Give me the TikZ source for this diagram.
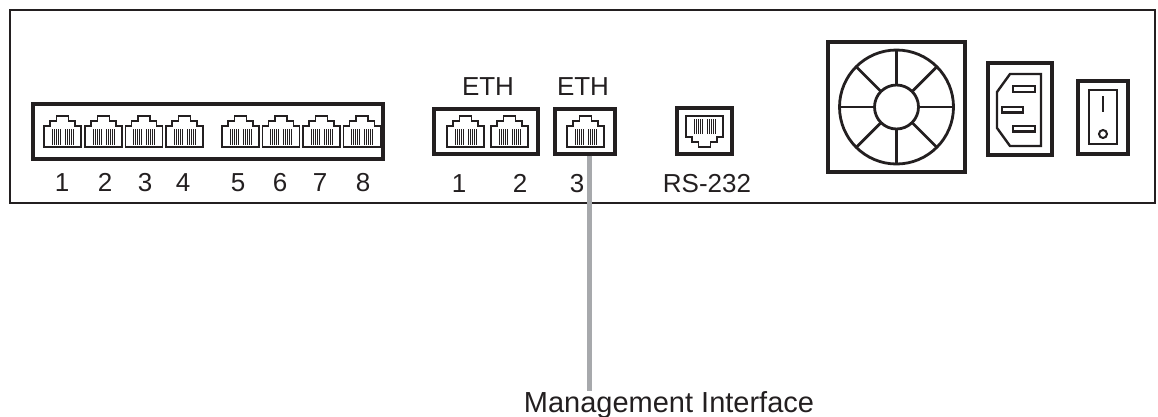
\documentclass[tikz,border=0pt]{standalone}
\usepackage{fontspec}
\setmainfont{Liberation Sans}
\usetikzlibrary{calc}
\definecolor{ink}{HTML}{231F20}
\definecolor{leadgray}{HTML}{A7A9AC}
\tikzset{
  panel/.style={draw=ink, line width=3.2pt, rectangle, inner sep=0pt, minimum width=#1},
  chassis/.style={draw=ink, line width=2.6pt},
  portline/.style={draw=ink, line width=1.2pt, line join=miter},
  pinline/.style={draw=ink, line width=0.8pt},
  lbl/.style={text=ink, inner sep=0pt, anchor=base, font=\fontsize{26}{30}\selectfont},
  biglbl/.style={text=ink, inner sep=0pt, anchor=base, font=\fontsize{29}{34}\selectfont},
  sym/.style={draw=ink, line width=2.8pt},
  rj/.pic={
    \draw[portline] (0,31) -- (0,10) -- (6,10) -- (6,5) -- (12.5,5) -- (12.5,0) -- (24.5,0) -- (24.5,5) -- (31,5) -- (31,10) -- (37,10) -- (37,31) -- cycle;
    \foreach \px in {8,10,12,14,16,21,23,25,27,29} \draw[pinline] (\px,13) -- (\px,28.5);
  }
}
\begin{document}
\begin{tikzpicture}[x=1pt,y=-1pt]
\useasboundingbox (0,0) rectangle (1158,416);
% chassis
\draw[chassis] (10,10) rectangle (1155,203);
% port group 1-8
\node[panel=350pt, minimum height=55pt] (sw) at (208,131.5) {};
\foreach \px in {44,85,125.5,166,222,262.5,303,343.5} \pic at (\px,116) {rj};
\foreach \lx/\t in {62/1,105/2,145/3,183/4,238/5,280/6,320/7,363/8}
  \node[lbl] (n\t) at (\lx,191) {\t};
% ETH 1-2
\node[panel=104pt, minimum height=45pt] (eth12) at (486,131.5) {};
\pic at (447,116) {rj};
\pic at (491,116) {rj};
\node[lbl] (ethA) at (488,95) {ETH};
\node[lbl] (e1) at (459,192) {1};
\node[lbl] (e2) at (520,192) {2};
% ETH 3
\node[panel=60pt, minimum height=45pt] (eth3) at (585,131.5) {};
\pic at (567,116) {rj};
\node[lbl] (ethB) at (583,95) {ETH};
\node[lbl] (e3) at (577,192) {3};
% RS-232
\node[panel=55pt, minimum height=46pt] (rs) at (704.5,131) {};
\pic[yscale=-1] at (686,147) {rj};
\node[lbl] (rsl) at (707,192) {RS-232};
% fan
\node[panel=137pt, minimum height=130pt] (fan) at (896.5,107) {};
\draw[sym] (fan.center) circle (57pt);
\draw[sym] (fan.center) circle (22pt);
\foreach \a in {0,45,...,315}
  \draw[sym] ($(fan.center)+(\a:22pt)$) -- ($(fan.center)+(\a:57pt)$);
% power inlet
\node[panel=64pt, minimum height=92pt] (inlet) at (1020,109) {};
\draw[sym, line width=2.4pt] (1010,74) -- (1041,74) -- (1041,146) -- (1010,146) -- (997,128) -- (997,92) -- cycle;
\draw[sym, line width=2.2pt] (1013,86) rectangle (1035,92);
\draw[sym, line width=2.2pt] (1002,107) rectangle (1023,112.5);
\draw[sym, line width=2.2pt] (1013,126) rectangle (1035,131.5);
% switch
\node[panel=50pt, minimum height=73pt] (switch) at (1103,117.5) {};
\draw[sym, line width=2.4pt] (1089,90) rectangle (1117,144);
\draw[sym, line width=2.2pt] (1103,96) -- (1103,112);
\draw[sym, line width=2pt] (1103,134) circle (4pt);
% management lead
\coordinate (mgmtend) at (589.5,391);
\draw[leadgray, line width=4.5pt] ([xshift=4.5pt]eth3.south) -- (mgmtend);
\node[biglbl] (mgmt) at (669,412) {Management Interface};
\end{tikzpicture}
\end{document}
